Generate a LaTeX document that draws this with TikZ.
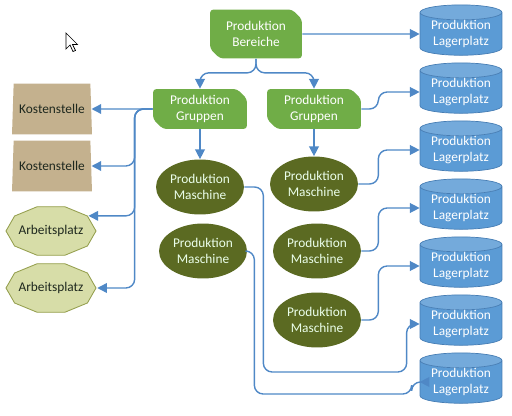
\documentclass[tikz,border=0pt]{standalone}
\usepackage{fontspec}
\setmainfont{Carlito}
\usetikzlibrary{shapes.geometric,shapes.misc,arrows.meta,calc}

\definecolor{grpgreen}{RGB}{112,173,71}
\definecolor{maschgreen}{RGB}{91,106,34}
\definecolor{lagerblue}{RGB}{91,155,213}
\definecolor{lagerline}{RGB}{70,125,180}
\definecolor{kostentan}{RGB}{196,177,142}
\definecolor{apfill}{RGB}{215,221,168}
\definecolor{apline}{RGB}{150,160,80}
\definecolor{linkblue}{RGB}{79,136,198}
\definecolor{darktext}{RGB}{30,40,30}

\tikzset{
	lbl/.style={font=\fontsize{7.6}{9.1}\selectfont, align=center, inner sep=0pt},
	prodbox/.style={lbl, chamfered rectangle, chamfered rectangle corners={north east,south west}, chamfered rectangle xsep=2.5pt, rounded corners=2pt, fill=grpgreen, text=white, minimum width=1.88cm, minimum height=0.8cm},
	maschine/.style={lbl, ellipse, fill=maschgreen, text=white!92!green, minimum width=1.76cm, minimum height=1.1cm},
	lager/.style={lbl, cylinder, shape border rotate=90, aspect=0.25, draw=lagerline, line width=0.4pt, cylinder uses custom fill, cylinder body fill=lagerblue, cylinder end fill=lagerblue!85!white, text=white, minimum width=1.64cm, minimum height=0.96cm},
	kosten/.style={lbl, trapezium, trapezium left angle=80, trapezium right angle=80, trapezium stretches body=true, fill=kostentan, text=darktext, minimum width=1.6cm, minimum height=1.02cm},
	apnode/.style={lbl, ellipse, text=darktext, minimum width=1.8cm, minimum height=1.02cm},
	apshape/.style={fill=apfill, draw=apline, line width=0.5pt},
	link/.style={draw=linkblue, line width=0.8pt, rounded corners=5pt, -{Triangle[length=5.5pt,width=5.5pt]}}
}

\begin{document}
\begin{tikzpicture}[x=0.02cm, y=-0.02cm]
	\useasboundingbox (0,0) rectangle (512,416);
	% mouse pointer
	\filldraw[fill=white, draw=black, line width=0.4pt] (66,33) -- (66,49) -- (70,45) -- (73,51.5) -- (75.5,50.5) -- (72.5,44.5) -- (77.5,44.5) -- cycle;

	% top level and groups
	\node[prodbox, minimum width=1.84cm, minimum height=0.98cm] (ber) at (256,34) {Produktion\\Bereiche};
	\node[prodbox] (grpL) at (200,109) {Produktion\\Gruppen};
	\node[prodbox] (grpR) at (314,109) {Produktion\\Gruppen};

	% machines
	\node[maschine] (mL1) at (200,187) {Produktion\\Maschine};
	\node[maschine] (mL2) at (203,251) {Produktion\\Maschine};
	\node[maschine] (mR1) at (314,184) {Produktion\\Maschine};
	\node[maschine] (mR2) at (317,251) {Produktion\\Maschine};
	\node[maschine] (mR3) at (317,320) {Produktion\\Maschine};

	% storage places
	\foreach \i in {1,...,7}
		\node[lager] (lp\i) at (461,{34+58*(\i-1)}) {Produktion\\Lagerplatz};

	% cost centres and workplaces
	\node[kosten] (ks1) at (52,109) {Kostenstelle};
	\node[kosten] (ks2) at (52,166) {Kostenstelle};
	\foreach \y [count=\i] in {231,288} {
		\filldraw[apshape] (51,\y) +(0:45 and 25.5) \foreach \t in {36,72,...,324} {-- +(\t:45 and 25.5)} -- cycle;
		\node[apnode] (ap\i) at (51,\y) {Arbeitsplatz};
	}

	% connections
	\draw[link] (ber.east) -- (lp1.west);
	\draw[link] (ber.south) -- ++(0,14) -| (grpL.north);
	\draw[link] (ber.south) -- ++(0,14) -| (grpR.north);
	\draw[link] (grpL.south) -- (mL1.north);
	\draw[link] (grpR.south) -- (mR1.north);
	\draw[link] (grpR.east) -- ++(17,0) |- (lp2.west);
	\draw[link] (mR1.east) -- ++(20,0) |- (lp3.west);
	\draw[link] (mR2.east) -- ++(17,0) |- (lp4.west);
	\draw[link] (mR3.east) -- ++(17,0) |- (lp5.west);
	\draw[link] (mL1.east) -- ++(19,0) -- ++(0,185) -| ($(lp6.west)+(-13,0)$) -- (lp6.west);
	\draw[link] (mL2.east) -- ++(7,0) -- ++(0,143) -| ($(lp7.west)+(-8,0)$) -- (lp7.west);
	\draw[link] (grpL.west) -- (ks1.east);
	\draw[link] (grpL.west) -- ++(-18,0) |- (ks2.east);
	\draw[link] (grpL.west) -- ++(-18,0) |- (ap1.22);
	\draw[link] (grpL.west) -- ++(-18,0) |- (ap2.east);
\end{tikzpicture}
\end{document}
